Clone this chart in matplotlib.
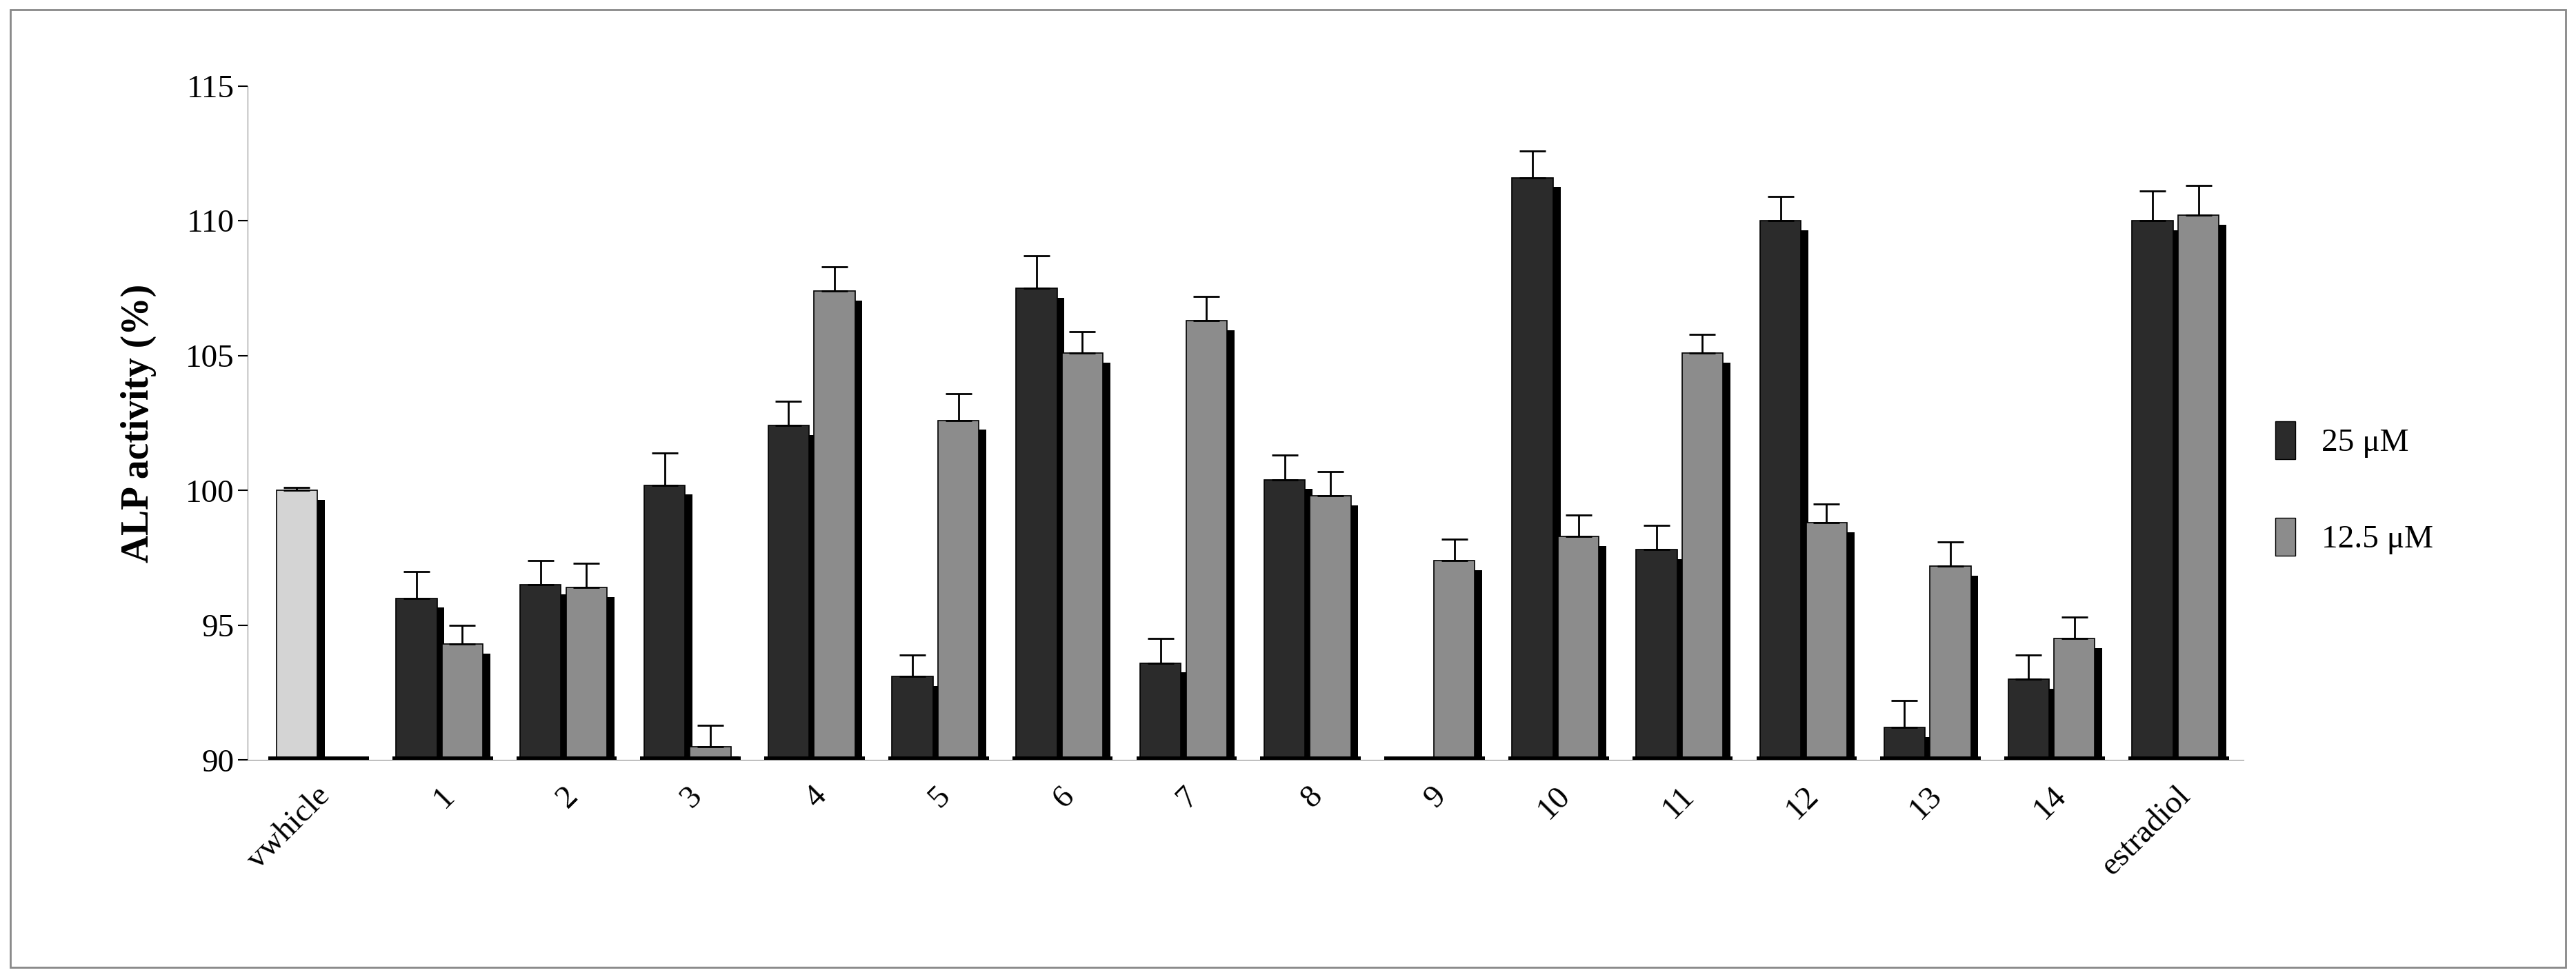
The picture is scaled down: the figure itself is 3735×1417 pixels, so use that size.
import matplotlib.pyplot as plt
import numpy as np

# -----------------
# DATA
# -----------------
categories = ['vwhicle', '1', '2', '3', '4', '5', '6', '7', '8', '9', '10', '11', '12', '13', '14', 'estradiol']
vals_25 = [np.nan, 96.0, 96.5, 100.2, 102.4, 93.1, 107.5, 93.6, 100.4, 90.0, 111.6, 97.8, 110.0, 91.2, 93.0, 110.0]
err_25 = [np.nan, 1.0, 0.9, 1.2, 0.9, 0.8, 1.2, 0.9, 0.9, 0.0, 1.0, 0.9, 0.9, 1.0, 0.9, 1.1]
vals_12 = [100.0, 94.3, 96.4, 90.5, 107.4, 102.6, 105.1, 106.3, 99.8, 97.4, 98.3, 105.1, 98.8, 97.2, 94.5, 110.2]
err_12 = [0.1, 0.7, 0.9, 0.8, 0.9, 1.0, 0.8, 0.9, 0.9, 0.8, 0.8, 0.7, 0.7, 0.9, 0.8, 1.1]

plt.rcParams['font.family'] = ['Liberation Serif', 'DejaVu Serif']

fig = plt.figure(figsize=(37.35, 14.17), dpi=100)
ax = fig.add_axes([0.096, 0.222, 0.775, 0.69])
fig.patches.append(plt.Rectangle((0.004, 0.01), 0.992, 0.98, transform=fig.transFigure,
                                 fill=False, edgecolor='#888888', lw=2))

x = np.arange(len(categories))
w = 0.33
side = 0.06
base = 90

def draw(xs, vals, errs, face):
    for xi, v, e in zip(xs, vals, errs):
        if np.isnan(v):
            continue
        h = v - base
        ax.bar(xi, h, w, bottom=base, color=face, edgecolor='black', lw=1.2)
        ax.bar(xi + w / 2 + side / 2, h - 0.35, side, bottom=base, color='black')
        if e > 0:
            ax.errorbar(xi, v, yerr=[[0], [e]], color='black', capsize=14, capthick=2, elinewidth=2)

face25 = '#2b2b2b'
face12 = '#8c8c8c'
draw(x[1:] - w / 2 - 0.02, vals_25[1:], err_25[1:], face25)
draw(x[1:] + w / 2 + 0.02, vals_12[1:], err_12[1:], face12)
draw(x[:1] - 0.15, vals_12[:1], err_12[:1], '#d4d4d4')

# base strips under each group
for xi in x:
    ax.plot([xi - 0.48 + 0.1, xi + 0.48 - 0.05], [base, base], color='black', lw=7, solid_capstyle='butt', zorder=5)

ax.set_ylim(90, 115)
ax.set_xlim(-0.55, len(categories) - 0.45)
ax.set_yticks([90, 95, 100, 105, 110, 115])
ax.tick_params(axis='y', labelsize=34, length=10, width=1.5)
ax.tick_params(axis='x', length=0, pad=22)
ax.set_xticks(x)
ax.set_xticklabels(categories, rotation=45, ha='right', rotation_mode='anchor', fontsize=34)
ax.set_ylabel('ALP activity (%)', fontsize=40, fontweight='bold', labelpad=30)
for s in ['top', 'right']:
    ax.spines[s].set_visible(False)
ax.spines['left'].set_color('#888888')
ax.spines['bottom'].set_color('#888888')

from matplotlib.patches import Patch
handles = [Patch(facecolor=face25, edgecolor='black', label='25 μM'),
           Patch(facecolor=face12, edgecolor='black', label='12.5 μM')]
fig.legend(handles=handles, loc='center left', bbox_to_anchor=(0.872, 0.5), frameon=False,
           fontsize=34, labelspacing=1.8, handlelength=0.6, handleheight=1.4)

fig.savefig('out.png', dpi=100)
